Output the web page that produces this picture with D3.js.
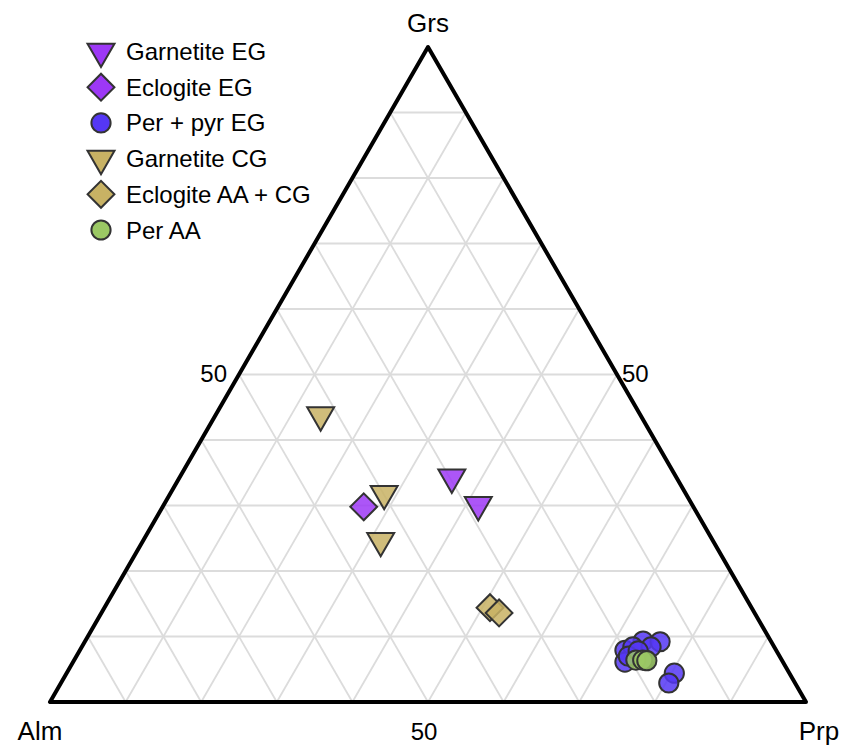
<!DOCTYPE html>
<html>
<head>
<meta charset="utf-8">
<script src="https://cdn.jsdelivr.net/npm/d3@7"></script>
<style>
  html, body { margin: 0; padding: 0; background: #fff; }
  svg { display: block; font-family: "Liberation Sans", Arial, Helvetica, sans-serif; }
</style>
</head>
<body>
<svg id="chart" width="851" height="746"></svg>
<script>
// Garnet end-member compositions, in percent: Grs (grossular), Alm (almandine), Prp (pyrope)
const series = ["Garnetite EG", "Eclogite EG", "Per + pyr EG", "Garnetite CG", "Eclogite AA + CG", "Per AA"];
const shapes = ["triangleDown", "diamond", "circle", "triangleDown", "diamond", "circle"];
const colors = ["#9d38f6", "#9d38f6", "#5537f5", "#c8b264", "#c8b264", "#9bc864"];

const garnetiteEG_Grs = [34.3, 30.1];
const garnetiteEG_Alm = [29.7, 28.3];
const garnetiteEG_Prp = [36.0, 41.6];

const eclogiteEG_Grs = [29.8];
const eclogiteEG_Alm = [43.6];
const eclogiteEG_Prp = [26.6];

const perPyrEG_Grs = [7.9, 9.3, 9.2, 8.4, 8.4, 6.1, 6.4, 4.4, 2.9, 7.0, 7.8];
const perPyrEG_Alm = [20.0, 16.9, 14.7, 18.7, 16.3, 20.9, 18.1, 15.2, 16.7, 20.0, 18.3];
const perPyrEG_Prp = [72.1, 73.8, 76.1, 72.9, 75.3, 73.0, 75.5, 80.3, 80.4, 73.0, 73.9];

const garnetiteCG_Grs = [43.8, 31.8, 24.6];
const garnetiteCG_Alm = [42.3, 39.9, 43.9];
const garnetiteCG_Prp = [13.9, 28.3, 31.4];

const eclogiteAACG_Grs = [14.4, 13.6];
const eclogiteAACG_Alm = [34.6, 33.8];
const eclogiteAACG_Prp = [51.0, 52.6];

const perAA_Grs = [6.4, 6.4, 6.3];
const perAA_Alm = [19.3, 18.4, 17.9];
const perAA_Prp = [74.3, 75.2, 75.8];

const gridTicks = [10, 20, 30, 40, 50, 60, 70, 80, 90];
const axisTickLabels = ["50", "50", "50"];
const vertexLabels = ["Grs", "Alm", "Prp"];

function rows(grs, alm, prp) {
  return grs.map((g, i) => ({ grs: g, alm: alm[i], prp: prp[i] }));
}
const groups = [
  rows(garnetiteEG_Grs, garnetiteEG_Alm, garnetiteEG_Prp),
  rows(eclogiteEG_Grs, eclogiteEG_Alm, eclogiteEG_Prp),
  rows(perPyrEG_Grs, perPyrEG_Alm, perPyrEG_Prp),
  rows(garnetiteCG_Grs, garnetiteCG_Alm, garnetiteCG_Prp),
  rows(eclogiteAACG_Grs, eclogiteAACG_Alm, eclogiteAACG_Prp),
  rows(perAA_Grs, perAA_Alm, perAA_Prp)
];

const svg = d3.select("#chart");

// Ternary frame: Alm bottom-left, Prp bottom-right, Grs at the apex
const x = d3.scaleLinear().domain([0, 100]).range([50, 806]);   // horizontal position along the base
const y = d3.scaleLinear().domain([0, 100]).range([702, 47]);   // Grs height

function project(grs, alm, prp) {
  const t = grs + alm + prp;
  const g = grs / t * 100, p = prp / t * 100;
  return [x(p + g / 2), y(g)];
}

const gGrid = svg.append("g");
gridTicks.forEach(v => {
  const w = 100 - v;
  // constant Grs
  [[project(v, w, 0), project(v, 0, w)],
  // constant Alm
   [project(w, v, 0), project(0, v, w)],
  // constant Prp
   [project(w, 0, v), project(0, w, v)]].forEach(seg => {
    gGrid.append("line")
      .attr("x1", seg[0][0]).attr("y1", seg[0][1])
      .attr("x2", seg[1][0]).attr("y2", seg[1][1])
      .attr("stroke", "#dcdcdc").attr("stroke-width", 1.8);
  });
});

const corners = [project(100, 0, 0), project(0, 100, 0), project(0, 0, 100)];
svg.append("path")
  .attr("d", d3.line()(corners) + "Z")
  .attr("fill", "none").attr("stroke", "#000").attr("stroke-width", 4)
  .attr("stroke-linejoin", "round");

// Vertex labels
const fsVertex = 26, fs = 24;
svg.append("text").attr("x", corners[0][0]).attr("y", 32)
  .attr("text-anchor", "middle").attr("font-size", fsVertex).text(vertexLabels[0]);
svg.append("text").attr("x", 40).attr("y", 740)
  .attr("text-anchor", "middle").attr("font-size", fsVertex).text(vertexLabels[1]);
svg.append("text").attr("x", 819).attr("y", 740)
  .attr("text-anchor", "middle").attr("font-size", fsVertex).text(vertexLabels[2]);

// Midpoint tick labels on each side
const leftMid = project(50, 50, 0), rightMid = project(50, 0, 50), baseMid = project(0, 50, 50);
svg.append("text").attr("x", leftMid[0] - 12).attr("y", leftMid[1] + 7)
  .attr("text-anchor", "end").attr("font-size", fs).text(axisTickLabels[0]);
svg.append("text").attr("x", rightMid[0] + 5).attr("y", rightMid[1] + 7)
  .attr("text-anchor", "start").attr("font-size", fs).text(axisTickLabels[1]);
svg.append("text").attr("x", baseMid[0] - 4).attr("y", 740)
  .attr("text-anchor", "middle").attr("font-size", fs).text(axisTickLabels[2]);

// Marker shapes
const symbolPath = {
  triangleDown: d3.symbol(d3.symbolTriangle, 315)(),
  diamond: d3.symbol(d3.symbolSquare, 360)(),
  circle: d3.symbol(d3.symbolCircle, 290)()
};
const symbolRotate = { triangleDown: 180, diamond: 45, circle: 0 };

const gPts = svg.append("g");
groups.forEach((data, si) => {
  const sh = shapes[si];
  gPts.selectAll(null).data(data).enter().append("path")
    .attr("d", symbolPath[sh])
    .attr("transform", d => {
      const [px, py] = project(d.grs, d.alm, d.prp);
      return `translate(${px},${py}) rotate(${symbolRotate[sh]})`;
    })
    .attr("fill", colors[si]).attr("fill-opacity", 0.85)
    .attr("stroke", "#333").attr("stroke-width", 2);
});

// Legend
const legend = svg.append("g");
series.forEach((name, i) => {
  const ly = 51.5 + i * 35.7;
  legend.append("path")
    .attr("d", symbolPath[shapes[i]])
    .attr("transform", `translate(101,${ly}) rotate(${symbolRotate[shapes[i]]})`)
    .attr("fill", colors[i]).attr("stroke", "#333").attr("stroke-width", 2);
  legend.append("text").attr("x", 126).attr("y", ly + 8.5)
    .attr("font-size", fs).text(name);
});
</script>
</body>
</html>
